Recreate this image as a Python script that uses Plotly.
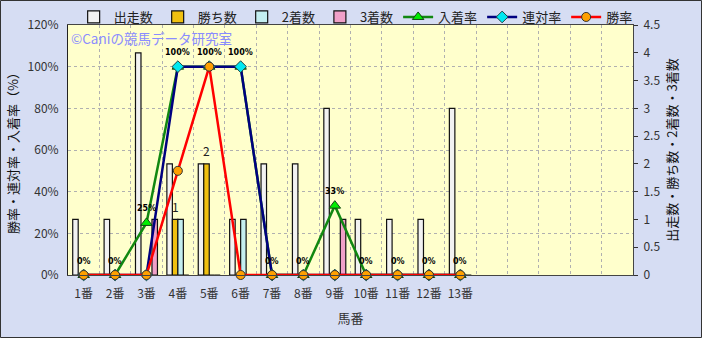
import plotly.graph_objects as go

# ---- data ----
horse_x = list(range(1, 14))
horse_labels = [f"{i}番" for i in range(1, 14)]
starts = [1, 1, 4, 2, 2, 1, 2, 2, 3, 1, 1, 1, 3]
wins = [0, 0, 0, 1, 2, 0, 0, 0, 0, 0, 0, 0, 0]
seconds = [0, 0, 0, 1, 0, 1, 0, 0, 0, 0, 0, 0, 0]
thirds = [0, 0, 1, 0, 0, 0, 0, 0, 1, 0, 0, 0, 0]
place_rate = [0, 0, 25, 100, 100, 100, 0, 0, 33.3, 0, 0, 0, 0]
quinella_rate = [0, 0, 0, 100, 100, 100, 0, 0, 0, 0, 0, 0, 0]
win_rate = [0, 0, 0, 50, 100, 0, 0, 0, 0, 0, 0, 0, 0]
n_slots = 18

FONT = "Noto Sans CJK JP"
W, H = 702, 338
ML, MR, MT, MB = 68, 69, 25, 63
PW, PH = W - ML - MR, H - MT - MB

fig = go.Figure()

bar_specs = [
    ("出走数", starts, "#f2f2f2"),
    ("勝ち数", wins, "#f0c010"),
    ("2着数", seconds, "#c4eef0"),
    ("3着数", thirds, "#f0a0c8"),
]
for name, vals, col in bar_specs:
    fig.add_trace(go.Bar(
        x=horse_x, y=vals, name=name,
        marker=dict(color=col, line=dict(color="#111", width=1.2)),
        yaxis="y",
    ))

fig.add_trace(go.Scatter(
    x=horse_x, y=place_rate, name="入着率", mode="lines+markers",
    line=dict(color="#118811", width=2.5),
    marker=dict(symbol="triangle-up", size=10, color="#00ee00", line=dict(color="#114411", width=1)),
    yaxis="y2", cliponaxis=False,
))
fig.add_trace(go.Scatter(
    x=horse_x, y=quinella_rate, name="連対率", mode="lines+markers",
    line=dict(color="#000080", width=2.5),
    marker=dict(symbol="diamond", size=9, color="#00e8f0", line=dict(color="#224444", width=1)),
    yaxis="y2", cliponaxis=False,
))
fig.add_trace(go.Scatter(
    x=horse_x, y=win_rate, name="勝率", mode="lines+markers",
    line=dict(color="#ff0000", width=2.5),
    marker=dict(symbol="circle", size=9, color="#ffa000", line=dict(color="#333", width=1)),
    yaxis="y2", cliponaxis=False,
))

annotations = [dict(
    x=xv, y=yv, xref="x", yref="y2", text=f"{yv:.0f}%", showarrow=False,
    yshift=14, font=dict(size=8, color="#000", family="DejaVu Sans", weight="bold"),
) for xv, yv in zip(horse_x, place_rate)]
# labels of the win-count bars (勝ち数 is the 2nd of 4 bars in each group)
annotations += [dict(
    x=xv, y=v, xref="x", yref="y", text=str(v), showarrow=False, xshift=-2.7,
    yshift=13, font=dict(size=12, color="#222", family=FONT),
) for xv, v in zip(horse_x, wins) if v > 0]
annotations.append(dict(
    text="©Caniの競馬データ研究室", xref="paper", yref="paper",
    x=1 / PW, y=(PH - 13) / PH, xanchor="left", yanchor="middle", showarrow=False,
    font=dict(size=13.5, color="#8a8cff", family=FONT),
))

fig.update_layout(
    width=W, height=H,
    margin=dict(l=ML, r=MR, t=MT, b=MB, pad=0, autoexpand=False),
    paper_bgcolor="#d6ddf3",
    plot_bgcolor="#ffffcc",
    font=dict(family=FONT, size=12, color="#333"),
    barmode="group", bargap=0.3, bargroupgap=0,
    showlegend=True,
    legend=dict(orientation="h", x=0.01, xanchor="left", y=(PH + 8) / PH, yanchor="middle",
                bgcolor="rgba(0,0,0,0)", font=dict(size=13, color="#222", family=FONT),
                itemwidth=30, tracegroupgap=0),
    xaxis=dict(
        range=[0.5, n_slots + 0.5], tickmode="array", tickvals=horse_x, ticktext=horse_labels,
        showgrid=False, ticks="", showline=True, linecolor="#444", linewidth=1, mirror=True,
        tickfont=dict(size=12, color="#333"), ticklabelstandoff=8,
        minor=dict(tickmode="array", tickvals=[i + 0.5 for i in range(1, n_slots)],
                   showgrid=True, griddash="dot", gridcolor="#b0b0b0", gridwidth=1, ticks=""),
        title=dict(text="馬番", font=dict(size=13, color="#333"), standoff=13),
        zeroline=False,
    ),
    yaxis=dict(
        side="right", range=[0, 4.5], dtick=0.5, tick0=0, showgrid=False, zeroline=False,
        ticks="outside", ticklen=4, tickcolor="#333", showline=True, linecolor="#444",
        tickfont=dict(size=12, color="#333"), ticklabelstandoff=3,
        title=dict(text="出走数・勝ち数・2着数・3着数", font=dict(size=13, color="#111"), standoff=8),
    ),
    yaxis2=dict(
        overlaying="y", side="left", range=[0, 120], dtick=20, tick0=0, ticksuffix="%",
        showgrid=True, griddash="dot", gridcolor="#b0b0b0", zeroline=False,
        showline=True, linecolor="#222", ticks="",
        tickfont=dict(size=12, color="#333"), ticklabelstandoff=6,
        title=dict(text="勝率・連対率・入着率（%）", font=dict(size=13, color="#111"), standoff=6),
    ),
    annotations=annotations,
    shapes=[dict(
        type="rect", xref="paper", yref="paper",
        x0=(-ML + 0.5) / PW, x1=(PW + MR - 0.5) / PW,
        y0=(-MB + 0.5) / PH, y1=(PH + MT - 0.5) / PH,
        line=dict(color="#333", width=1), layer="below",
    )],
)

fig.write_html("out.html")
